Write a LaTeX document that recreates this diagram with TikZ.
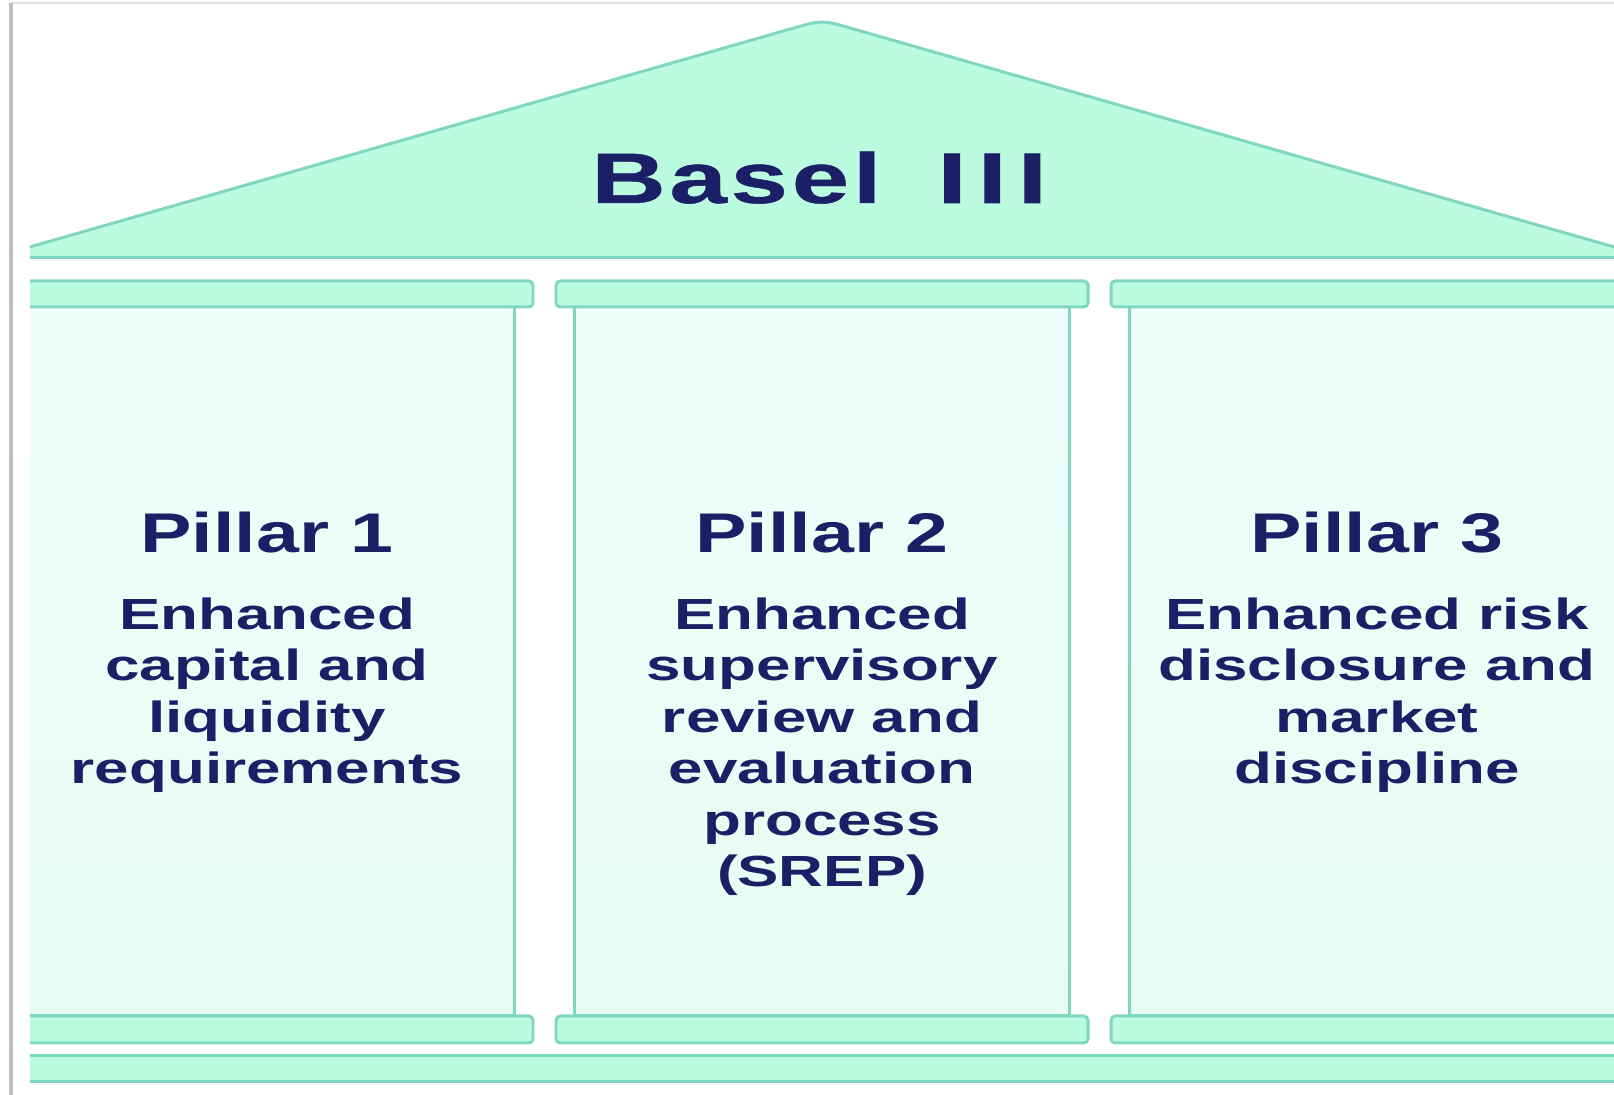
\documentclass[tikz,border=0pt]{standalone}
\usepackage{fontspec}
\setmainfont{Liberation Sans}
\newfontfamily\headfont{Liberation Sans}[FakeStretch=1.45, LetterSpace=5, FakeBold=0.6]
\newfontfamily\titlefont{Liberation Sans}[FakeStretch=1.38]
\newfontfamily\descfont{Liberation Sans}[FakeStretch=1.42]
\definecolor{roofMint}{HTML}{BBFCE0}
\definecolor{shaftTop}{HTML}{EEFEFB}
\definecolor{shaftBot}{HTML}{E7FDF3}
\definecolor{edgeTeal}{HTML}{7FD7C2}
\definecolor{navyInk}{HTML}{1B1F66}
\definecolor{frameGray}{HTML}{BDBDBD}

\begin{document}
\begin{tikzpicture}[
    x=0.01cm, y=-0.01cm,
    roof/.style={fill=roofMint, draw=edgeTeal, line width=0.85pt},
    capbar/.style={fill=roofMint, draw=edgeTeal, line width=0.85pt, rounded corners=1.2pt},
    shaft/.style={top color=shaftTop, bottom color=shaftBot, draw=edgeTeal, line width=0.85pt},
    heading/.style={anchor=base, inner sep=0pt, text=navyInk, font=\headfont\bfseries\fontsize{20.3}{24}\selectfont},
    title/.style={anchor=base, inner sep=0pt, text=navyInk, font=\titlefont\bfseries\fontsize{15.9}{18}\selectfont},
    desc/.style={anchor=north, inner sep=0pt, align=center, text=navyInk, font=\descfont\bfseries\fontsize{12.4}{14.65}\selectfont}
  ]
    \useasboundingbox (0,0) rectangle (1614,1095);

    % Frame
    \draw[frameGray!45, line width=0.6pt] (11,3) -- (1614,3);
    \draw[frameGray, line width=1.1pt] (11,3) -- (11,1095);

    \begin{scope}
      \clip (30,0) rectangle (1614,1095);

      % Roof
      \fill[roofMint] (20,258) -- (20,249.8) -- (793.2,28.2) .. controls (822,20) .. (850.8,28.2)
        -- (1624,249.8) -- (1624,258) -- cycle;
      \draw[edgeTeal, line width=0.85pt] (20,249.8) -- (793.2,28.2) .. controls (822,20) .. (850.8,28.2) -- (1624,249.8);
      \draw[edgeTeal, line width=0.85pt] (20,258) -- (1624,258);

      % Pillars
      \draw[shaft] (19.5,307) rectangle (514.5,1016);
      \draw[shaft] (574.5,307) rectangle (1069.5,1016);
      \draw[shaft] (1129.5,307) rectangle (1624.5,1016);

      \draw[capbar] (1,281) rectangle (533,307);
      \draw[capbar] (556,281) rectangle (1088,307);
      \draw[capbar] (1111,281) rectangle (1643,307);

      \draw[capbar] (1,1016) rectangle (533,1043);
      \draw[capbar] (556,1016) rectangle (1088,1043);
      \draw[capbar] (1111,1016) rectangle (1643,1043);

      % Base
      \draw[roof] (0,1056) rectangle (1650,1082);
    \end{scope}

    % Texts
    \node[heading] (basel) at (819,203) {Basel\hspace{0.56cm}{\addfontfeature{LetterSpace=16, FakeBold=1.4}III}};

    \node[title] (p1title) at (267,553) {Pillar 1};
    \node[title] (p2title) at (822,553) {Pillar 2};
    \node[title] (p3title) at (1377,553) {Pillar 3};

    \node[desc] (p1desc) at (267,597) {Enhanced\\capital and\\liquidity\\requirements};
    \node[desc] (p2desc) at (822,597) {Enhanced\\supervisory\\review and\\evaluation\\process\\(SREP)};
    \node[desc] (p3desc) at (1377,597) {Enhanced risk\\disclosure and\\market\\discipline};
  \end{tikzpicture}
\end{document}
